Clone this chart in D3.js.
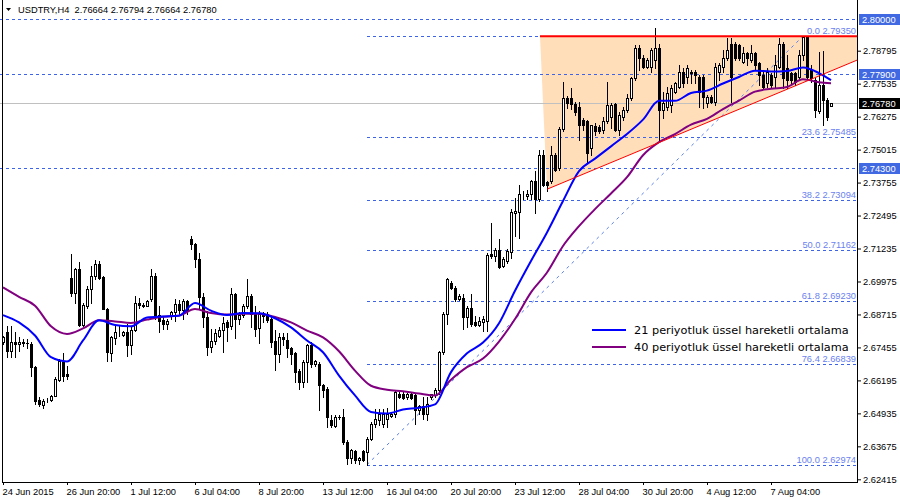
<!DOCTYPE html>
<html><head><meta charset="utf-8">
<script src="https://cdn.jsdelivr.net/npm/d3@7"></script>
<style>body{margin:0;background:#fff}svg{display:block}</style>
</head><body><svg id="c" width="900" height="500"></svg>
<script>
// ---- data ----
const opens=[2.6765,2.6803,2.6733,2.6768,2.6758,2.6765,2.6764,2.6758,2.6669,2.6546,2.6527,2.6544,2.6546,2.6561,2.6622,2.6688,2.6644,2.7012,2.6955,2.7046,2.6831,2.6904,2.6968,2.7019,2.7063,2.7016,2.6894,2.6726,2.6780,2.6800,2.6794,2.6805,2.6754,2.6813,2.6914,2.6908,2.6904,2.6930,2.7019,2.6869,2.6851,2.6834,2.6866,2.6879,2.6911,2.6889,2.6923,2.7158,2.7139,2.7085,2.6940,2.6860,2.6749,2.6771,2.6790,2.6813,2.6841,2.6828,2.6949,2.6853,2.6869,2.6902,2.6942,2.6872,2.6818,2.6876,2.6872,2.6853,2.6771,2.6720,2.6786,2.6775,2.6742,2.6724,2.6657,2.6613,2.6689,2.6753,2.6683,2.6683,2.6600,2.6587,2.6467,2.6444,2.6479,2.6479,2.6384,2.6321,2.6350,2.6314,2.6350,2.6346,2.6397,2.6454,2.6467,2.6454,2.6473,2.6482,2.6492,2.6568,2.6566,2.6556,2.6568,2.6562,2.6505,2.6520,2.6492,2.6556,2.6562,2.6581,2.6727,2.6873,2.6990,2.6974,2.6930,2.6936,2.6860,2.6898,2.6841,2.6832,2.6841,2.6845,2.7104,2.7094,2.7117,2.7057,2.7076,2.7112,2.7260,2.7264,2.7330,2.7324,2.7330,2.7383,2.7311,2.7482,2.7378,2.7380,2.7482,2.7431,2.7581,2.7700,2.7698,2.7675,2.7666,2.7615,2.7609,2.7507,2.7590,2.7586,2.7577,2.7609,2.7628,2.7675,2.7577,2.7628,2.7654,2.7698,2.7774,2.7888,2.7850,2.7819,2.7819,2.7844,2.7888,2.7654,2.7666,2.7673,2.7723,2.7742,2.7800,2.7780,2.7800,2.7800,2.7780,2.7780,2.7679,2.7704,2.7685,2.7800,2.7819,2.7850,2.7907,2.7907,2.7901,2.7838,2.7869,2.7844,2.7869,2.7831,2.7787,2.7755,2.7787,2.7780,2.7819,2.7907,2.7812,2.7793,2.7793,2.7780,2.7863,2.7933,2.7806,2.7768,2.7650,2.7748,2.7690,2.76664];
const highs=[2.6790,2.6828,2.6828,2.6803,2.6784,2.6777,2.6777,2.6765,2.6676,2.6555,2.6549,2.6551,2.6564,2.6631,2.6701,2.6726,2.6676,2.7101,2.7050,2.7072,2.6917,2.6980,2.7057,2.7079,2.7076,2.7019,2.6898,2.6790,2.6828,2.6828,2.6809,2.6834,2.6828,2.6942,2.6936,2.6914,2.6927,2.7044,2.7031,2.6904,2.6860,2.6853,2.6885,2.6930,2.6927,2.6930,2.6927,2.7171,2.7143,2.7105,2.6955,2.6885,2.6815,2.6815,2.6822,2.6860,2.6851,2.6974,2.6955,2.6881,2.6911,2.7008,2.6949,2.6902,2.6885,2.6881,2.6881,2.6860,2.6813,2.6800,2.6800,2.6800,2.6749,2.6729,2.6663,2.6698,2.6759,2.6765,2.6698,2.6689,2.6606,2.6594,2.6486,2.6486,2.6486,2.6511,2.6391,2.6359,2.6353,2.6327,2.6353,2.6403,2.6460,2.6511,2.6511,2.6511,2.6515,2.6498,2.6579,2.6575,2.6575,2.6571,2.6575,2.6568,2.6524,2.6556,2.6556,2.6568,2.6591,2.6733,2.6880,2.7012,2.7000,2.6981,2.6949,2.6949,2.6904,2.6949,2.6866,2.6860,2.6866,2.7108,2.7222,2.7127,2.7159,2.7091,2.7120,2.7273,2.7317,2.7368,2.7345,2.7349,2.7387,2.7419,2.7500,2.7500,2.7383,2.7514,2.7488,2.7586,2.7761,2.7708,2.7736,2.7685,2.7685,2.7622,2.7615,2.7596,2.7603,2.7594,2.7628,2.7761,2.7679,2.7679,2.7647,2.7666,2.7713,2.7780,2.7901,2.7901,2.7863,2.7850,2.7888,2.7967,2.7907,2.7723,2.7742,2.7749,2.7761,2.7825,2.7812,2.7825,2.7806,2.7806,2.7787,2.7787,2.7711,2.7711,2.7831,2.7831,2.7882,2.7927,2.7927,2.7914,2.7907,2.7895,2.7876,2.7901,2.7876,2.7838,2.7800,2.7812,2.7793,2.7863,2.7927,2.7914,2.7863,2.7800,2.7800,2.7882,2.7935,2.7935,2.7825,2.7774,2.7876,2.7878,2.7698,2.76794];
const lows=[2.6758,2.6707,2.6707,2.6707,2.6733,2.6752,2.6745,2.6638,2.6530,2.6523,2.6513,2.6538,2.6542,2.6559,2.6618,2.6618,2.6625,2.6942,2.6917,2.6828,2.6828,2.6898,2.6917,2.7006,2.7006,2.6892,2.6695,2.6695,2.6758,2.6790,2.6790,2.6714,2.6720,2.6809,2.6898,2.6900,2.6902,2.6923,2.6853,2.6805,2.6815,2.6815,2.6853,2.6847,2.6872,2.6853,2.6872,2.7120,2.7054,2.6898,2.6825,2.6716,2.6729,2.6758,2.6784,2.6729,2.6771,2.6815,2.6780,2.6834,2.6860,2.6898,2.6825,2.6790,2.6762,2.6841,2.6841,2.6749,2.6660,2.6688,2.6754,2.6707,2.6682,2.6612,2.6587,2.6594,2.6613,2.6670,2.6676,2.6505,2.6556,2.6441,2.6441,2.6441,2.6473,2.6378,2.6300,2.6302,2.6302,2.6299,2.6312,2.6297,2.6391,2.6441,2.6448,2.6441,2.6441,2.6479,2.6479,2.6553,2.6549,2.6549,2.6549,2.6454,2.6492,2.6473,2.6467,2.6549,2.6556,2.6568,2.6720,2.6835,2.6968,2.6924,2.6926,2.6816,2.6822,2.6828,2.6828,2.6828,2.6809,2.6809,2.7089,2.7076,2.7048,2.7051,2.7070,2.7089,2.7171,2.7165,2.7311,2.7311,2.7311,2.7260,2.7305,2.7362,2.7345,2.7374,2.7419,2.7425,2.7571,2.7660,2.7657,2.7634,2.7539,2.7577,2.7450,2.7482,2.7558,2.7565,2.7565,2.7603,2.7584,2.7571,2.7558,2.7615,2.7647,2.7692,2.7768,2.7806,2.7812,2.7812,2.7800,2.7812,2.7539,2.7622,2.7654,2.7647,2.7717,2.7736,2.7742,2.7755,2.7755,2.7755,2.7666,2.7660,2.7666,2.7679,2.7673,2.7768,2.7800,2.7844,2.7685,2.7844,2.7844,2.7831,2.7825,2.7838,2.7806,2.7749,2.7736,2.7742,2.7742,2.7736,2.7812,2.7736,2.7736,2.7755,2.7749,2.7768,2.7844,2.7774,2.7761,2.7628,2.7640,2.7594,2.7615,2.76664];
const closes=[2.6784,2.6733,2.6767,2.6758,2.6768,2.6764,2.6762,2.6669,2.6542,2.6530,2.6542,2.6546,2.6561,2.6625,2.6695,2.6638,2.6638,2.6955,2.7046,2.6831,2.6907,2.6968,2.7019,2.7063,2.7012,2.6894,2.6729,2.6784,2.6805,2.6802,2.6805,2.6756,2.6813,2.6914,2.6907,2.6902,2.6923,2.7019,2.6866,2.6847,2.6834,2.6847,2.6881,2.6911,2.6889,2.6923,2.6885,2.7139,2.7085,2.6940,2.6860,2.6749,2.6771,2.6800,2.6813,2.6838,2.6825,2.6949,2.6853,2.6869,2.6902,2.6942,2.6872,2.6815,2.6872,2.6866,2.6851,2.6767,2.6720,2.6784,2.6777,2.6742,2.6720,2.6653,2.6612,2.6689,2.6753,2.6683,2.6693,2.6600,2.6581,2.6479,2.6448,2.6479,2.6478,2.6384,2.6321,2.6353,2.6314,2.6321,2.6317,2.6397,2.6454,2.6473,2.6492,2.6492,2.6492,2.6492,2.6575,2.6556,2.6553,2.6568,2.6553,2.6505,2.6520,2.6492,2.6530,2.6566,2.6584,2.6727,2.6873,2.7006,2.6974,2.6930,2.6943,2.6860,2.6898,2.6835,2.6832,2.6845,2.6854,2.7099,2.7094,2.7117,2.7051,2.7082,2.7114,2.7264,2.7266,2.7330,2.7331,2.7330,2.7383,2.7311,2.7482,2.7368,2.7365,2.7482,2.7425,2.7581,2.7698,2.7679,2.7675,2.7645,2.7596,2.7596,2.7488,2.7594,2.7571,2.7571,2.7609,2.7673,2.7673,2.7577,2.7634,2.7654,2.7700,2.7774,2.7888,2.7850,2.7819,2.7844,2.7882,2.7888,2.7654,2.7679,2.7717,2.7736,2.7755,2.7800,2.7755,2.7812,2.7793,2.7787,2.7723,2.7704,2.7704,2.7685,2.7819,2.7825,2.7850,2.7882,2.7780,2.7850,2.7853,2.7869,2.7850,2.7869,2.7825,2.7787,2.7742,2.7800,2.7749,2.7825,2.7907,2.7774,2.7768,2.7768,2.7761,2.7863,2.7933,2.7780,2.7774,2.7654,2.7748,2.7690,2.7628,2.76780];

const timeLabels=["24 Jun 2015","26 Jun 20:00","1 Jul 12:00","6 Jul 04:00","8 Jul 20:00","13 Jul 12:00","16 Jul 04:00","20 Jul 20:00","23 Jul 12:00","28 Jul 04:00","30 Jul 20:00","4 Aug 12:00","7 Aug 04:00"];
const timeLabelBars=[0,16,32,48,64,80,96,112,128,144,160,176,192];
const priceTicks=[2.78795,2.77535,2.76275,2.75015,2.73755,2.72495,2.71235,2.69975,2.68715,2.67455,2.66195,2.64935,2.63675,2.62415];
const markedLevels=[2.80000,2.77900,2.74300];
const currentPrice=2.76780;
const fibPct=["0.0","23.6","38.2","50.0","61.8","76.4","100.0"];
const fibPrice=[2.79350,2.75485,2.73094,2.71162,2.69230,2.66839,2.62974];
const fibBars=[91,200];
const emaBars=[0,4,8,12,16,20,24,28,32,36,40,44,48,52,56,60,64,68,72,76,80,84,88,92,96,100,104,108,112,116,120,124,128,132,136,140,144,148,152,156,160,164,168,172,176,180,184,188,192,196,200,204,207];
const ema21=[2.6869,2.6841,2.6791,2.6708,2.6692,2.6772,2.6849,2.6831,2.6826,2.6860,2.6864,2.6867,2.6915,2.6886,2.6869,2.6877,2.6876,2.6857,2.6822,2.6772,2.6727,2.6638,2.6562,2.6499,2.6493,2.6508,2.6515,2.6528,2.6651,2.6723,2.6764,2.6838,2.6962,2.7076,2.7185,2.7305,2.7419,2.7467,2.7514,2.7561,2.7616,2.7688,2.7688,2.7718,2.7727,2.7754,2.7779,2.7803,2.7800,2.7802,2.7815,2.7794,2.7767];
const ema40=[2.6975,2.6939,2.6905,2.6826,2.6797,2.6818,2.6849,2.6845,2.6839,2.6852,2.6863,2.6867,2.6892,2.6877,2.6871,2.6874,2.6874,2.6862,2.6841,2.6810,2.6784,2.6731,2.6657,2.6599,2.6584,2.6578,2.6569,2.6562,2.6622,2.6670,2.6703,2.6768,2.6854,2.6956,2.7032,2.7133,2.7209,2.7274,2.7334,2.7396,2.7480,2.7530,2.7561,2.7597,2.7619,2.7656,2.7689,2.7723,2.7734,2.7741,2.7770,2.7759,2.7755];
const triBars=[134.25,213.75,213.75,136];
const triPrices=[2.7935,2.7935,2.7845,2.7350];
const legendLabels=["21 periyotluk üssel hareketli ortalama","40 periyotluk üssel hareketli ortalama"];
const header="USDTRY,H4  2.76664 2.76794 2.76664 2.76780";

// ---- drawing ----
const svg=d3.select("#c");
const W=858,H=482;
const x=d3.scaleLinear().domain([-0.75,213.75]).range([0,W]);
const y=d3.scaleLinear().domain([2.62415,2.78795]).range([479.3,50.7]);
const py=v=>Math.round(y(v));
const px=i=>Math.round(x(i));
const font='"Liberation Sans",Arial,sans-serif';
const fs=9.3;
const blueDash="#3d63e6", fibText="#6b7ff0";

svg.append("defs").append("clipPath").attr("id","pc").append("rect").attr("x",0).attr("y",0).attr("width",W).attr("height",H);
const g=svg.append("g").attr("clip-path","url(#pc)");

// triangle fill
g.append("path").attr("d",d3.line()(triBars.map((b,k)=>[x(b),y(triPrices[k])]))+"Z").attr("fill","#FFDEB9");

// full-width levels
g.selectAll(".lvl").data(markedLevels).enter().append("line")
 .attr("x1",0).attr("x2",W).attr("y1",d=>py(d)+0.5).attr("y2",d=>py(d)+0.5)
 .attr("stroke",blueDash).attr("stroke-dasharray","3,3");
// current price line
g.append("line").attr("x1",0).attr("x2",W).attr("y1",py(currentPrice)+0.5).attr("y2",py(currentPrice)+0.5).attr("stroke","#c0c0c0");

// fib
g.selectAll(".fib").data(fibPrice).enter().append("line")
 .attr("x1",x(fibBars[0])).attr("x2",W).attr("y1",d=>py(d)+0.5).attr("y2",d=>py(d)+0.5)
 .attr("stroke",blueDash).attr("stroke-dasharray","3,3");
g.append("line").attr("x1",x(fibBars[0])).attr("y1",y(fibPrice[6])).attr("x2",x(fibBars[1])).attr("y2",y(fibPrice[0]))
 .attr("stroke","#5a7ef0").attr("stroke-width",1).attr("stroke-dasharray","3,4");
g.selectAll(".fibt").data(fibPrice).enter().append("text")
 .attr("x",856).attr("y",d=>py(d)-2).attr("text-anchor","end")
 .attr("font-family",font).attr("font-size",fs).attr("fill",fibText)
 .text((d,k)=>fibPct[k]+" "+d.toFixed(5));

// candles
const bars=d3.range(opens.length);
const cg=g.append("g");
bars.forEach(i=>{
  const cx=px(i);
  cg.append("line").attr("x1",cx+0.5).attr("x2",cx+0.5).attr("y1",py(highs[i])).attr("y2",py(lows[i])+1).attr("stroke","#000");
  const top=py(Math.max(opens[i],closes[i])), bot=py(Math.min(opens[i],closes[i]));
  if(closes[i]>=opens[i]){
    cg.append("rect").attr("x",cx-0.5).attr("y",top+0.5).attr("width",2).attr("height",Math.max(0,bot-top)).attr("fill","#fff").attr("stroke","#000");
  } else {
    cg.append("rect").attr("x",cx-1).attr("y",top).attr("width",3).attr("height",Math.max(1,bot-top+1)).attr("fill","#000");
  }
});

// EMAs
const emaLine=vals=>d3.line().x((d,k)=>x(emaBars[k])).y(d=>y(d)).curve(d3.curveMonotoneX)(vals);
g.append("path").attr("d",emaLine(ema40)).attr("fill","none").attr("stroke","#800080").attr("stroke-width",2);
g.append("path").attr("d",emaLine(ema21)).attr("fill","none").attr("stroke","#0000ff").attr("stroke-width",2);

// red lines
g.append("line").attr("x1",x(triBars[0])).attr("x2",x(triBars[1])).attr("y1",y(triPrices[0])).attr("y2",y(triPrices[1])).attr("stroke","#ff0000").attr("stroke-width",2);
g.append("line").attr("x1",x(triBars[3])).attr("x2",x(triBars[2])).attr("y1",y(triPrices[3])).attr("y2",y(triPrices[2])).attr("stroke","#ff0000").attr("stroke-width",1);

// legend
const lg=svg.append("g");
[["#0000ff",legendLabels[0]],["#800080",legendLabels[1]]].forEach((d,k)=>{
  const yy=330+k*17;
  lg.append("line").attr("x1",592).attr("x2",626).attr("y1",yy).attr("y2",yy).attr("stroke",d[0]).attr("stroke-width",2);
  lg.append("text").attr("x",634).attr("y",yy+4).attr("font-family",'"DejaVu Sans",Verdana,sans-serif').attr("font-size",11.3).attr("fill","#000").text(d[1]);
});

// axes frame
svg.append("line").attr("x1",2.5).attr("x2",2.5).attr("y1",0).attr("y2",H+1).attr("stroke","#000");
svg.append("line").attr("x1",W-0.5).attr("x2",W-0.5).attr("y1",0).attr("y2",H+1).attr("stroke","#000");
svg.append("line").attr("x1",2).attr("x2",W).attr("y1",H+0.5).attr("y2",H+0.5).attr("stroke","#000");

// right axis
const ra=svg.append("g").attr("transform",`translate(${W},0)`);
ra.call(d3.axisRight(y).tickValues(priceTicks).tickSize(3).tickPadding(2).tickFormat(d=>d.toFixed(5)))
  .call(a=>a.select(".domain").remove())
  .call(a=>a.selectAll("text").attr("font-family",font).attr("font-size",fs).attr("fill","#000"));
const marks=markedLevels.map(v=>({v,bg:"#4169e1"})).concat([{v:currentPrice,bg:"#000"}]);
marks.forEach(m=>{
  const yy=py(m.v);
  svg.append("rect").attr("x",W+1).attr("y",yy-5).attr("width",41).attr("height",11).attr("fill",m.bg);
  svg.append("text").attr("x",W+4).attr("y",yy+4).attr("font-family",font).attr("font-size",fs).attr("fill","#fff").text(m.v.toFixed(5));
});

// bottom axis
const ba=svg.append("g").attr("transform",`translate(0,${H})`);
ba.call(d3.axisBottom(x).tickValues(timeLabelBars).tickSize(3).tickFormat((d,k)=>timeLabels[k]))
  .call(a=>a.select(".domain").remove())
  .call(a=>a.selectAll("text").attr("font-family",font).attr("font-size",fs).attr("fill","#000").attr("text-anchor","start").attr("dx",-1));

// header
svg.append("path").attr("d","M6,8 L11,8 L8.5,11 Z").attr("fill","#000");
svg.append("text").attr("x",18).attr("y",13).attr("font-family",font).attr("font-size",fs).attr("fill","#000").attr("xml:space","preserve").style("white-space","pre").text(header);
</script></body></html>
